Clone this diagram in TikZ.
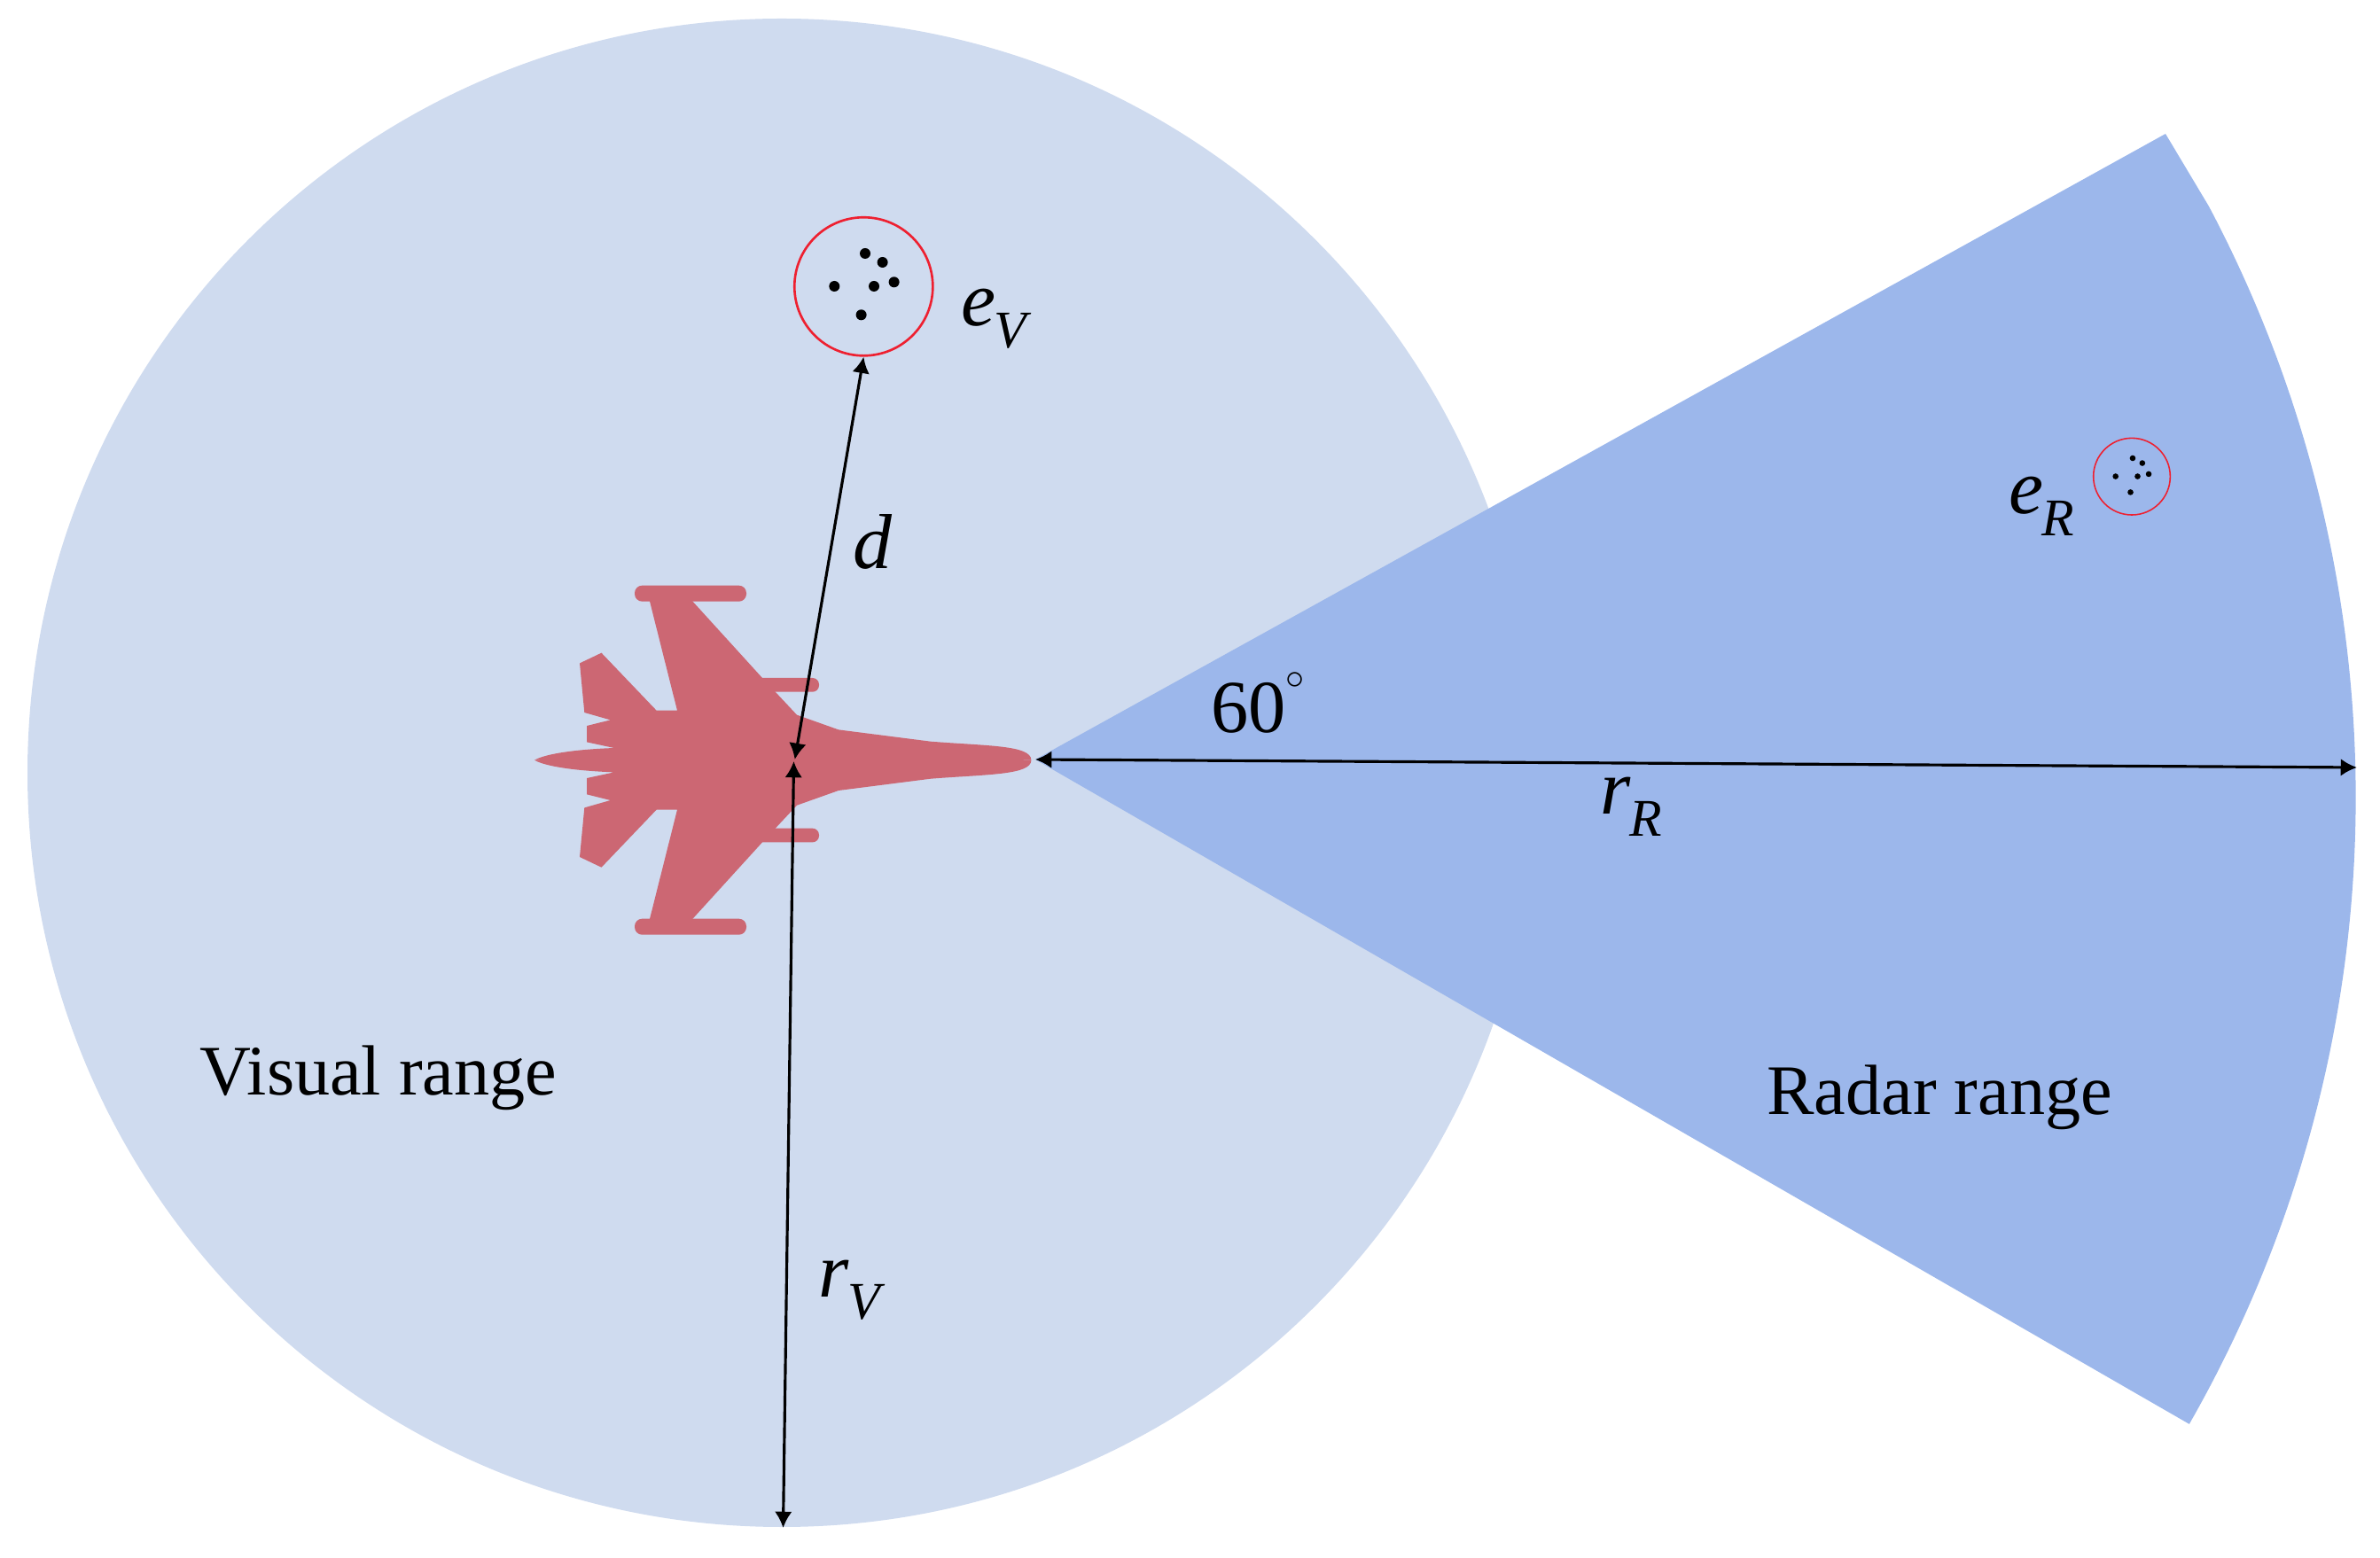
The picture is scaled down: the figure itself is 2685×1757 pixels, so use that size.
\documentclass[tikz,border=0pt]{standalone}
\usepackage{fontspec}
\setmainfont{Liberation Serif}
\usetikzlibrary{arrows.meta}
\definecolor{visualblue}{HTML}{CFDBEF}
\definecolor{radarblue}{HTML}{9CB7EB}
\definecolor{jetred}{HTML}{CC6773}
\definecolor{ringred}{HTML}{EE2030}
\newcommand{\sublabel}[2]{\textit{#1}\kern-0.02em\raisebox{-0.28em}{\fontsize{17}{20}\selectfont\textit{#2}}}
\tikzset{
  rangelabel/.style={font=\fontsize{22.8}{27}\selectfont},
  mathlabel/.style={font=\fontsize{25}{30}\selectfont},
  measure/.style={{Latex[length=5.2pt,width=5.6pt]}-{Latex[length=5.2pt,width=5.6pt]},line width=0.9pt},
  echoring/.style={circle,draw=ringred,inner sep=0pt}
}
\begin{document}
\begin{tikzpicture}[x=0.01cm,y=0.01cm]
      \useasboundingbox (0,0) rectangle (2685,1757);
      % visual disc and radar sector
      \fill[visualblue] (882,885) circle[radius=851];
      \fill[radarblue] (1168,900) -- (2443,1606) -- (2492,1524)
        arc[start angle=27.9,end angle=-29.75,radius=1425] -- cycle;
      % jet, one half mirrored
      \begin{scope}[shift={(603,899.3)}]
        \foreach \s in {1,-1} {
          \begin{scope}[yscale=\s]
            \fill[jetred] (0,0) .. controls (12,7) and (45,12) .. (89.8,13.7)
              -- (59.2,20.3) -- (59.2,38.7) -- (85.7,45.3) -- (56.3,53.7)
              -- (51,109.3) -- (75.5,121) -- (137.6,56) -- (161,56)
              -- (129.8,180) -- (177.6,180) -- (257,92.7) -- (296,51)
              -- (343,34.3) -- (447,21)
              .. controls (510,16) and (560.4,17) .. (560.4,0)
              -- (400,-1) -- (100,-1) -- cycle;
            \fill[jetred,rounded corners=2.4pt] (113,179) rectangle (239,197);
            \fill[jetred,rounded corners=2.1pt] (250,77) rectangle (321,92.7);
          \end{scope}
        }
      \end{scope}
      % echo rings
      \node[echoring,minimum size=1.56cm,line width=0.75pt] (eV) at (974.3,1433.7) {};
      \node[echoring,minimum size=0.866cm,line width=0.45pt] (eR) at (2405,1219.3) {};
      \foreach \dx/\dy in {1.7/37.3,21.3/27.3,-33/0.3,11.7/0.3,34.3/5,-2.7/-32} {
        \fill (eV) ++(\dx,\dy) circle[radius=6];
        \fill (eR) ++({\dx*0.555},{\dy*0.555}) circle[radius=3.3];
      }
      % measures
      \coordinate (hubV) at (895.5,898);
      \coordinate (footV) at (883.5,33);
      \coordinate (hubD) at (896.7,900);
      \coordinate (radarL) at (1168,900);
      \coordinate (radarR) at (2659,891);
      \draw[measure] (hubV) -- (footV);
      \draw[measure] (hubD) -- (eV.south);
      \draw[measure] (radarL) -- (radarR);
      % labels
      \node[rangelabel] (visual) at (427,541) {Visual range};
      \node[rangelabel] (radar) at (2188,519) {Radar range};
      \node[font=\fontsize{24}{28}\selectfont] (angle) at (1420,964) {60\raisebox{0.2em}{$^{\scriptscriptstyle\circ}$}};
      \node[mathlabel] (labelEV) at (1124,1397) {\sublabel{e}{V}};
      \node[mathlabel] (labelER) at (2303,1186) {\sublabel{e}{R}};
      \node[mathlabel] (labelD) at (985,1146) {\textit{d}};
      \node[mathlabel] (labelRV) at (961,301) {\sublabel{r}{V}};
      \node[mathlabel] (labelRR) at (1840,847) {\sublabel{r}{R}};
    \end{tikzpicture}
\end{document}
